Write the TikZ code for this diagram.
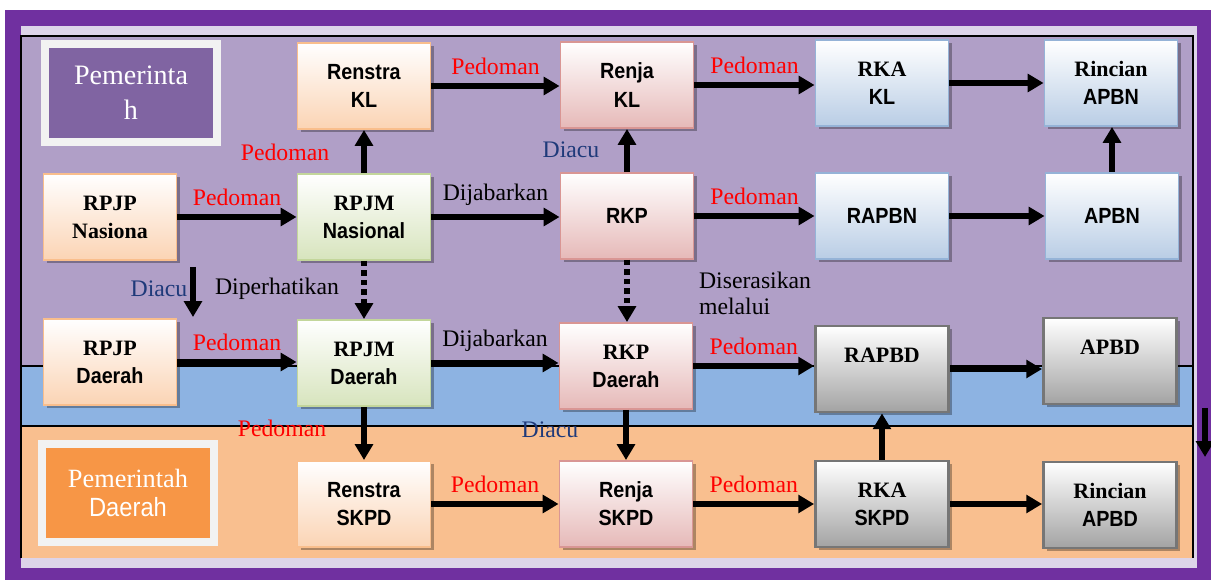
\documentclass[tikz,border=0pt]{standalone}
\usepackage{fontspec}
\setmainfont{Liberation Serif}
\setsansfont{Liberation Sans}[FakeStretch=0.9]
\usetikzlibrary{arrows.meta, positioning, shadows}
\definecolor{framepurple}{HTML}{7030A0}
\definecolor{striplav}{HTML}{DDD4E9}
\definecolor{pusatbg}{HTML}{B09FC7}
\definecolor{bandblue}{HTML}{8DB3E2}
\definecolor{daerahbg}{HTML}{F9BF8F}
\definecolor{govpurple}{HTML}{8064A2}
\definecolor{govorange}{HTML}{F79646}
\definecolor{govframe}{HTML}{F2F2F2}
\definecolor{edgeorange}{HTML}{F9BE8C}
\definecolor{filorange}{HTML}{FBD4B4}
\definecolor{edgegreen}{HTML}{C3D69B}
\definecolor{filgreen}{HTML}{D7E4BD}
\definecolor{edgepink}{HTML}{D99694}
\definecolor{filpink}{HTML}{E6B9B8}
\definecolor{edgeblue}{HTML}{95B3D7}
\definecolor{filblue}{HTML}{B9CDE5}
\definecolor{edgegray}{HTML}{767676}
\definecolor{filgray}{HTML}{A3A3A3}
\definecolor{diacublue}{HTML}{1F3A7A}
\tikzset{
  >={Triangle[length=9pt,width=10pt]},
  box/.style={draw, line width=1.1pt, minimum width=2.66cm, minimum height=1.72cm,
    align=center, inner sep=1pt, font=\fontsize{12.5}{16}\selectfont\bfseries,
    drop shadow={shadow xshift=1.8pt, shadow yshift=-1.8pt, fill=black, opacity=0.3}},
  box orange/.style={box, draw=edgeorange, top color=white, bottom color=filorange},
  box green/.style={box, draw=edgegreen, top color=white, bottom color=filgreen},
  box pink/.style={box, draw=edgepink, top color=white, bottom color=filpink},
  box blue/.style={box, draw=edgeblue, top color=white, bottom color=filblue},
  box gray/.style={box, draw=edgegray, line width=1.6pt, top color=white, bottom color=filgray},
  gov box/.style={draw=govframe, line width=4.5pt, minimum width=3.44cm, minimum height=1.96cm,
    align=center, text=white,
    drop shadow={shadow xshift=2pt, shadow yshift=-2pt, fill=black, opacity=0.3}},
  arr/.style={->, line width=3.2pt},
  arr dots/.style={arr, dash pattern=on 3pt off 2.4pt},
  lbl/.style={font=\fontsize{13.5}{14.5}\selectfont, inner sep=1pt},
  lbl red/.style={lbl, red},
  lbl blue/.style={lbl, diacublue}
}
\begin{document}
\begin{tikzpicture}[x=0.02cm,y=-0.02cm]
  \useasboundingbox (0,0) rectangle (1211,580);

  % --- background bands ---
  \fill[white] (0,0) rectangle (1211,580);
  \fill[framepurple] (5,10) rectangle (1211,580);
  \fill[striplav] (21,26) rectangle (1197,568);
  \fill[pusatbg] (21,36) rectangle (1193,366);
  \fill[bandblue] (21,366) rectangle (1193,426);
  \fill[daerahbg] (21,426) rectangle (1193,558);
  \draw[line width=0.7pt] (21,558) -- (21,36) -- (1193,36) -- (1193,558);
  \draw[line width=0.7pt] (21,366) -- (1193,366);
  \draw[line width=0.7pt] (21,426) -- (1193,426);

  % --- government labels ---
  \node[gov box, fill=govpurple, font=\fontsize{16}{20}\selectfont] (gov-pusat) at (131,93) {Pemerinta\\h};
  \node[gov box, fill=govorange, font=\fontsize{15}{17}\selectfont] (gov-daerah) at (128,493) {Pemerintah\\\textsf{Daerah}};

  % --- ROW 1: national plans ---
  \node[box orange] (renstra-kl) at (364,86) {\textsf{Renstra}\\\textsf{KL}};
  \node[box pink] (renja-kl) at (627,85) {\textsf{Renja}\\\textsf{KL}};
  \node[box blue] (rka-kl) at (882,83) {RKA\\\textsf{KL}};
  \node[box blue] (rincian-apbn) at (1111,83) {Rincian\\\textsf{APBN}};

  % --- ROW 2 ---
  \node[box orange] (rpjp-nas) at (110,217) {RPJP\\Nasiona};
  \node[box green] (rpjm-nas) at (364,217) {RPJM\\\textsf{Nasional}};
  \node[box pink] (rkp) at (627,216) {\textsf{RKP}};
  \node[box blue] (rapbn) at (882,216) {\textsf{RAPBN}};
  \node[box blue] (apbn) at (1112,216) {\textsf{APBN}};

  % --- ROW 3: regional plans ---
  \node[box orange] (rpjp-daerah) at (110,362) {RPJP\\\textsf{Daerah}};
  \node[box green] (rpjm-daerah) at (364,363) {RPJM\\\textsf{Daerah}};
  \node[box pink] (rkp-daerah) at (626,366) {RKP\\\textsf{Daerah}};
  \node[box gray] (rapbd) at (882,369) {RAPBD\\\mbox{}};
  \node[box gray] (apbd) at (1110,361) {APBD\\\mbox{}};

  % --- ROW 4 ---
  \node[box orange] (renstra-skpd) at (364,504) {\textsf{Renstra}\\\textsf{SKPD}};
  \node[box pink] (renja-skpd) at (626,504) {\textsf{Renja}\\\textsf{SKPD}};
  \node[box gray] (rka-skpd) at (882,504) {RKA\\\textsf{SKPD}};
  \node[box gray] (rincian-apbd) at (1110,505) {Rincian\\\textsf{APBD}};

  % --- free arrows ---
  \coordinate (diacu-top) at (193,267);
  \coordinate (diacu-bot) at (193,317);
  \coordinate (side-top) at (1205,408);
  \coordinate (side-bot) at (1205,457);

  % --- CONNECTIONS: horizontal ---
  \draw[arr] (rpjp-nas) -- (rpjp-nas -| rpjm-nas.west) node[lbl red, midway, above=4pt] {Pedoman};
  \draw[arr] (renstra-kl) -- (renstra-kl -| renja-kl.west) node[lbl red, midway, above=4pt] {Pedoman};
  \draw[arr] (renja-kl) -- (renja-kl -| rka-kl.west) node[lbl red, midway, above=4pt] {Pedoman};
  \draw[arr] (rka-kl) -- (rka-kl -| rincian-apbn.west);
  \draw[arr] (rpjm-nas) -- (rpjm-nas -| rkp.west) node[lbl, midway, above=4pt] {Dijabarkan};
  \draw[arr] (rkp) -- (rkp -| rapbn.west) node[lbl red, midway, above=4pt] {Pedoman};
  \draw[arr] (rapbn) -- (rapbn -| apbn.west);
  \draw[arr] (rpjp-daerah) -- (rpjp-daerah -| rpjm-daerah.west) node[lbl red, midway, above=4pt] {Pedoman};
  \draw[arr] (rpjm-daerah) -- (rpjm-daerah -| rkp-daerah.west) node[lbl, midway, above=4pt] {Dijabarkan};
  \draw[arr] (rkp-daerah) -- (rkp-daerah -| rapbd.west) node[lbl red, midway, above=4pt] {Pedoman};
  \draw[arr] (rapbd) -- (rapbd -| apbd.west);
  \draw[arr] (renstra-skpd) -- (renstra-skpd -| renja-skpd.west) node[lbl red, midway, above=4pt] {Pedoman};
  \draw[arr] (renja-skpd) -- (renja-skpd -| rka-skpd.west) node[lbl red, midway, above=4pt] {Pedoman};
  \draw[arr] (rka-skpd) -- (rka-skpd -| rincian-apbd.west);

  % --- CONNECTIONS: vertical ---
  \draw[arr] (rpjm-nas) -- (rpjm-nas |- renstra-kl.south);
  \draw[arr] (rkp) -- (rkp |- renja-kl.south);
  \draw[arr] (apbn) -- (apbn |- rincian-apbn.south);
  \draw[arr] (rka-skpd) -- (rka-skpd |- rapbd.south);
  \draw[arr] (rpjm-daerah) -- (rpjm-daerah |- renstra-skpd.north);
  \draw[arr] (rkp-daerah) -- (rkp-daerah |- renja-skpd.north);
  \draw[arr dots] (rpjm-nas) -- (rpjm-nas |- rpjm-daerah.north);
  \draw[arr dots] (rkp) -- (rkp |- rkp-daerah.north);
  \draw[arr] (diacu-top) -- (diacu-bot);
  \draw[arr] (side-top) -- (side-bot);

  % --- labels on vertical arrows ---
  \node[lbl red] at (285,152) {Pedoman};
  \node[lbl blue] at (571,150) {Diacu};
  \node[lbl blue] at (159,289) {Diacu};
  \node[lbl] at (277,289) {Diperhatikan};
  \node[lbl, align=left, anchor=north west] at (697,270) {Diserasikan\\melalui};
  \node[lbl red] at (282,428) {Pedoman};
  \node[lbl blue] at (550,430) {Diacu};

\end{tikzpicture}
\end{document}
